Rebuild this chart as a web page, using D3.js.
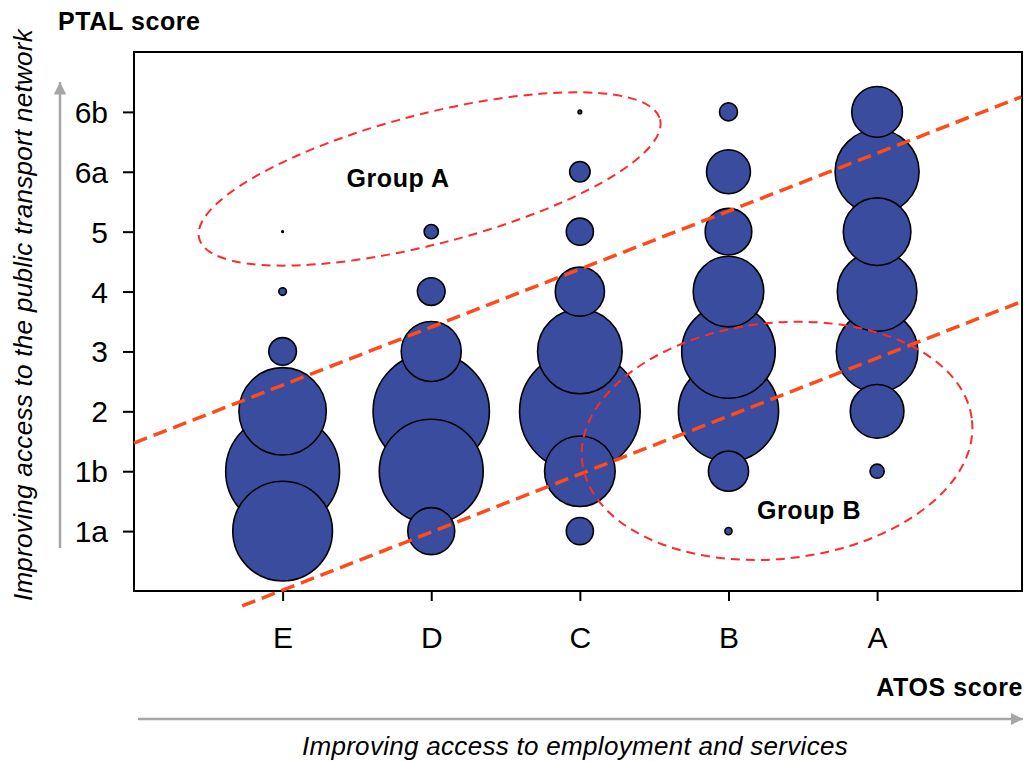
<!DOCTYPE html>
<html>
<head>
<meta charset="utf-8">
<script src="https://cdn.jsdelivr.net/npm/d3@7/dist/d3.min.js"></script>
<style>
  html, body { margin: 0; padding: 0; background: #fff; }
  svg { display: block; font-family: "Liberation Sans", Arial, sans-serif; }
</style>
</head>
<body>
<svg id="chart" width="1027" height="761"></svg>
<script>
// ---- data ----
const atosLabels = ["E", "D", "C", "B", "A"];
const ptalLabels = ["1a", "1b", "2", "3", "4", "5", "6a", "6b"];
// relative size (bubble area) per PTAL level 1a..6b, for each ATOS score
const valuesE = [69, 90, 53, 5.3, 0.4, 0.02, 0, 0];
const valuesD = [15.3, 75, 94, 25, 5.3, 1.4, 0, 0];
const valuesC = [5.1, 34.6, 101, 49.7, 16.8, 5.1, 2.9, 0.09];
const valuesB = [0.36, 11.2, 69.7, 60.8, 34.6, 15.1, 13.4, 2.25];
const valuesA = [0, 1.4, 20, 46.2, 44, 31.7, 49, 17.8];
const seriesValues = [valuesE, valuesD, valuesC, valuesB, valuesA];
// trend bands (in axis units: ATOS index, PTAL index)
const bandUpper = [[0, 2.47], [5.97, 8.25]];
const bandLower = [[0.728, -0.25], [5.97, 4.83]];
const groupNames = ["Group A", "Group B"];

(function () {
// ---- layout ----
const svg = d3.select("#chart");
const pLeft = 134, pRight = 1022, pTop = 52, pBottom = 591;
const x = d3.scaleLinear().domain([0, 5.975]).range([pLeft, pRight]);
const y = d3.scaleLinear().domain([0, 9]).range([pBottom, pTop]);
const r = d3.scaleSqrt().domain([0, 100]).range([0, 60]);

const fontFam = '"Liberation Sans", Arial, sans-serif';

// points
const points = [];
seriesValues.forEach((vals, i) => {
  vals.forEach((v, j) => {
    if (v > 0) points.push({ atos: i + 1, ptal: j + 1, v: v });
  });
});
points.sort((a, b) => b.v - a.v);

// bubbles
svg.append("g").selectAll("circle").data(points).enter().append("circle")
  .attr("cx", d => x(d.atos))
  .attr("cy", d => y(d.ptal))
  .attr("r", d => r(d.v))
  .attr("fill", "#3a4c9e")
  .attr("stroke", "#000")
  .attr("stroke-width", 1.6);

// frame
svg.append("rect")
  .attr("x", x(0)).attr("y", y(9))
  .attr("width", x(5.975) - x(0)).attr("height", y(0) - y(9))
  .attr("fill", "none").attr("stroke", "#000").attr("stroke-width", 2);

// axes
const yAxis = d3.axisLeft(y)
  .tickValues(d3.range(1, 9))
  .tickFormat(d => ptalLabels[d - 1])
  .tickSize(11).tickSizeOuter(0).tickPadding(15);
const gy = svg.append("g").attr("transform", `translate(${x(0)},0)`).call(yAxis);
gy.select(".domain").remove();
gy.selectAll("line").attr("stroke", "#000").attr("stroke-width", 2);
gy.selectAll("text").attr("font-size", 30).attr("font-family", fontFam).attr("fill", "#000").attr("dy", "0.35em");

const xAxis = d3.axisBottom(x)
  .tickValues(d3.range(1, 6))
  .tickFormat(d => atosLabels[d - 1])
  .tickSize(10).tickSizeOuter(0).tickPadding(26);
const gx = svg.append("g").attr("transform", `translate(0,${y(0)})`).call(xAxis);
gx.select(".domain").remove();
gx.selectAll("line").attr("stroke", "#000").attr("stroke-width", 2);
gx.selectAll("text").attr("font-size", 30).attr("font-family", fontFam).attr("fill", "#000");

// trend lines
const line = d3.line().x(d => x(d[0])).y(d => y(d[1]));
[bandUpper, bandLower].forEach(b => {
  svg.append("path").attr("d", line(b))
    .attr("fill", "none").attr("stroke", "#ff4a1a")
    .attr("stroke-width", 3.5).attr("stroke-dasharray", "14,7");
});

// group ellipses
const ellipses = [
  { cx: 1.989, cy: 6.88, rx: 238, ry: 65, rot: -14.5 },
  { cx: 4.327, cy: 2.507, rx: 196, ry: 118, rot: -6 }
];
ellipses.forEach(e => {
  svg.append("ellipse")
    .attr("transform", `translate(${x(e.cx)},${y(e.cy)}) rotate(${e.rot})`)
    .attr("rx", e.rx).attr("ry", e.ry)
    .attr("fill", "none").attr("stroke", "#ff2a2a")
    .attr("stroke-width", 2).attr("stroke-dasharray", "9,6");
});

// group labels
const groupPos = [[1.777, 6.745], [4.542, 1.2]];
groupNames.forEach((g, i) => {
  svg.append("text")
    .attr("x", x(groupPos[i][0])).attr("y", y(groupPos[i][1]))
    .attr("text-anchor", "middle")
    .attr("font-size", 25).attr("font-weight", "bold").attr("fill", "#000")
    .attr("letter-spacing", 0.6)
    .text(g);
});

// axis titles
svg.append("text").attr("x", 58).attr("y", 30)
  .attr("font-size", 25).attr("font-weight", "bold").attr("letter-spacing", 0.6).text("PTAL score");
svg.append("text").attr("x", 1023).attr("y", 696).attr("text-anchor", "end")
  .attr("font-size", 25).attr("font-weight", "bold").attr("letter-spacing", 0.6).text("ATOS score");

// gray arrows
const defs = svg.append("defs");
defs.append("marker").attr("id", "arr").attr("viewBox", "0 0 10 10")
  .attr("refX", 10).attr("refY", 5).attr("markerWidth", 5).attr("markerHeight", 5)
  .attr("markerUnits", "strokeWidth").attr("orient", "auto")
  .append("path").attr("d", "M0,0 L10,5 L0,10 Z").attr("fill", "#a6a6a6");

svg.append("line").attr("x1", 138).attr("y1", 719).attr("x2", 1023).attr("y2", 719)
  .attr("stroke", "#a6a6a6").attr("stroke-width", 2.5).attr("marker-end", "url(#arr)");
svg.append("line").attr("x1", 60).attr("y1", 548).attr("x2", 60).attr("y2", 82)
  .attr("stroke", "#a6a6a6").attr("stroke-width", 2.5).attr("marker-end", "url(#arr)");

svg.append("text").attr("x", 575).attr("y", 755).attr("text-anchor", "middle")
  .attr("font-size", 26).attr("font-style", "italic").attr("fill", "#000")
  .attr("letter-spacing", 0.3)
  .text("Improving access to employment and services");
svg.append("text").attr("transform", "translate(32,315) rotate(-90)")
  .attr("text-anchor", "middle")
  .attr("font-size", 26).attr("font-style", "italic").attr("fill", "#000")
  .attr("letter-spacing", 0.3)
  .text("Improving access to the public transport network");
})();
</script>
</body>
</html>
